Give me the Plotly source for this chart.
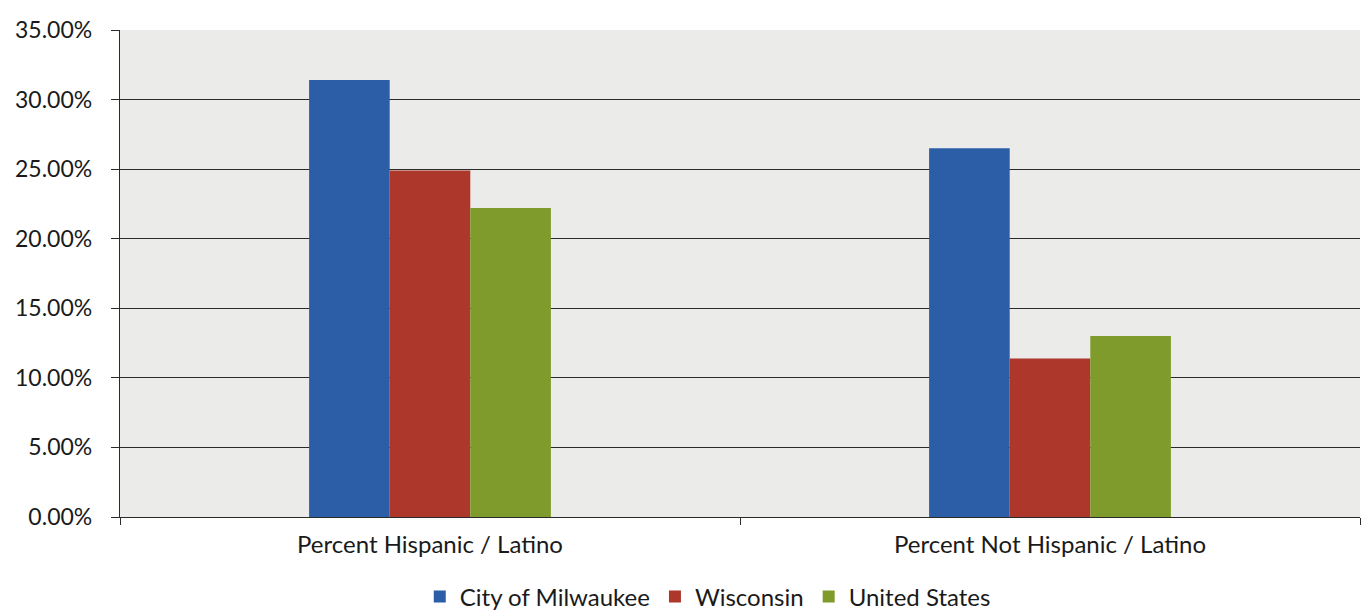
import plotly.graph_objects as go

categories = ["Percent Hispanic / Latino", "Percent Not Hispanic / Latino"]
milwaukee = [0.314, 0.265]
wisconsin = [0.249, 0.114]
united_states = [0.222, 0.130]

series = [
    ("City of Milwaukee", milwaukee, "#2b5ea7"),
    ("Wisconsin", wisconsin, "#ae372c"),
    ("United States", united_states, "#7e9b2b"),
]

fig = go.Figure()
for name, values, color in series:
    fig.add_trace(go.Bar(
        x=categories, y=values, name=name,
        marker=dict(color=color, line=dict(width=0)),
    ))

fig.update_layout(
    width=1370, height=614,
    margin=dict(l=120, r=10, t=30, b=97, autoexpand=False),
    barmode="group", bargap=0.61, bargroupgap=0,
    paper_bgcolor="#ffffff", plot_bgcolor="#ebebe9",
    font=dict(family="Lato, Open Sans, sans-serif", color="#1a1a1a"),
    showlegend=True,
    legend=dict(
        orientation="h", x=0.474, xanchor="center",
        yref="container", y=0.028, yanchor="middle",
        font=dict(size=24), itemwidth=30, traceorder="normal",
        bgcolor="rgba(0,0,0,0)",
    ),
)

fig.update_yaxes(
    range=[0, 0.35], dtick=0.05, tickformat=".2%",
    showgrid=True, gridcolor="#2a2a2a", gridwidth=1.3,
    showline=True, linecolor="#2a2a2a", linewidth=1.3,
    ticks="outside", ticklen=8, tickcolor="#2a2a2a",
    tickfont=dict(size=23), ticklabelstandoff=14, zeroline=False,
)
fig.update_xaxes(
    showline=True, linecolor="#2a2a2a", linewidth=1.3,
    ticks="outside", ticklen=7, tickcolor="#2a2a2a", tickson="boundaries",
    tickfont=dict(size=24), ticklabelstandoff=6, showgrid=False,
)

fig.write_html("out.html")
